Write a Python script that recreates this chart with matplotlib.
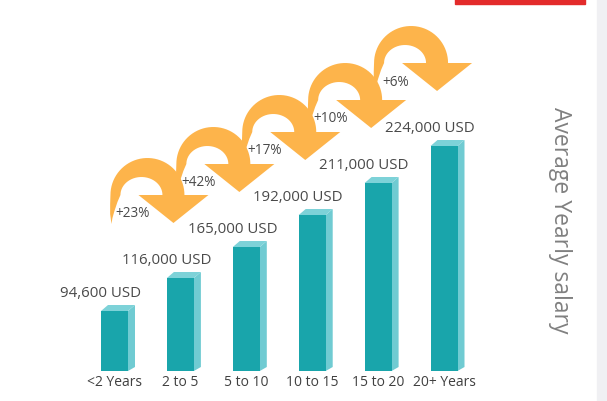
#!/usr/bin/env python3

import matplotlib
matplotlib.use('Agg')
import matplotlib.pyplot as plt
import matplotlib.transforms as mtransforms
from matplotlib.patches import Polygon
import numpy as np

# Chart data
categories = ['<2 Years', '2 to 5', '5 to 10', '10 to 15', '15 to 20', '20+ Years']
salary = [94600, 116000, 165000, 192000, 211000, 224000]
growth = ['+23%', '+42%', '+17%', '+10%', '+6%']
# Drawn bar heights (the infographic uses a staircase, not a linear scale)
bar_level = [60, 93, 124, 156, 188, 225]

FRONT = '#19a5ab'
SIDE = '#70cbd2'
CAP = '#7dd2d8'
ORANGE = '#fdb44b'
TEXT = '#4a4a4a'


def arrow_shape():
    '''Curled arrow outline in pixel units, origin at the arc centre, y up'''
    R = 37
    pts = [(-36, -29), (-37.3, -19), (-37.3, -9), (-37, 0)]
    for t in np.linspace(np.pi, 0, 40):
        pts.append((R * np.cos(t), R * np.sin(t)))
    # arrow head
    pts += [(61, 0), (26, -28), (-9, 0), (15, 0)]
    # inner hole (ellipse)
    for t in np.linspace(0, np.pi, 30):
        pts.append((-6 + 21 * np.cos(t), 18 * np.sin(t)))
    pts += [(-30, -7), (-33, -16), (-35, -23)]
    return np.array(pts)


def main():
    plt.rcParams['font.family'] = ['Open Sans', 'DejaVu Sans']

    fig = plt.figure(figsize=(6.07, 4.02), dpi=100)
    ax = fig.add_axes([0, 0, 1, 1])

    # one category step is ~66 px, y units are pixels
    step = 65.9
    ax.set_xlim(-114.5 / step, (607 - 114.5) / step)
    ax.set_ylim(-30, 372)
    ax.axis('off')

    x = np.arange(len(categories))
    w = 27 / step
    depth = 7 / step
    rise = 6

    ax.bar(x, bar_level, width=w, color=FRONT, zorder=3)

    for xi, h in zip(x, bar_level):
        x0, x1 = xi - w / 2, xi + w / 2
        ax.add_patch(Polygon([(x1, 0), (x1 + depth, 4), (x1 + depth, h + rise), (x1, h)],
            closed=True, color=SIDE, lw=0, zorder=2))
        ax.add_patch(Polygon([(x0, h), (x1, h), (x1 + depth, h + rise), (x0 + depth, h + rise)],
            closed=True, color=CAP, lw=0, zorder=2))

    # Value labels above bars
    for xi, h, v in zip(x, bar_level, salary):
        ax.annotate('{:,} USD'.format(v), xy=(xi, h), xytext=(-14, 18),
            textcoords='offset pixels', ha='center', va='center',
            fontsize=10.8, color=TEXT)

    # Category labels
    for xi, c in zip(x, categories):
        ax.text(xi, -11, c, ha='center', va='center', fontsize=10, color='#404040')

    # Curled growth arrows between bars
    shape = arrow_shape()
    for i, g in enumerate(growth):
        cx = (x[i] + x[i + 1]) / 2
        cy = bar_level[i + 1] + 83
        tr = mtransforms.Affine2D() + mtransforms.ScaledTranslation(cx, cy, ax.transData)
        ax.add_patch(Polygon(shape, closed=True, color=ORANGE, lw=0, transform=tr, zorder=4))
        ax.annotate(g, xy=(cx, cy), xytext=(-15, -18), textcoords='offset pixels',
            ha='center', va='center', fontsize=9.8, color=TEXT, zorder=5)

    # Side title
    fig.text(560 / 607, 1 - 220 / 402, 'Average Yearly salary', rotation=-90,
        ha='center', va='center', fontsize=16.5, color='#808080')

    # Decorations: red bar at top, grey strip at right edge
    fig.patches.append(plt.Rectangle((455 / 607, 1 - 5 / 402), 130 / 607, 5 / 402,
        transform=fig.transFigure, color='#e32b2b', zorder=1))
    fig.patches.append(plt.Rectangle((597 / 607, 0), 10 / 607, 1,
        transform=fig.transFigure, color='#f0f0f3', zorder=1))

    fig.savefig('out.png', dpi=100)


if __name__ == '__main__':
    main()
